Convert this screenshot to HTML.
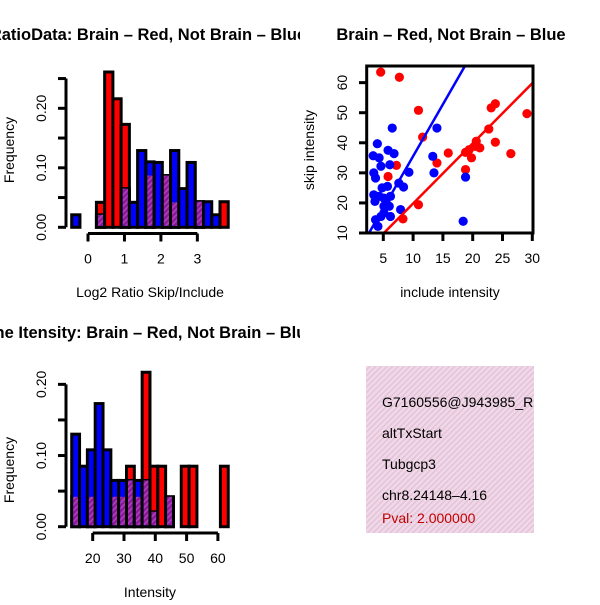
<!DOCTYPE html>
<html><head><meta charset="utf-8"><style>
body{margin:0;background:#fff}
svg text{font-family:"Liberation Sans",sans-serif}
</style></head><body>
<svg id="c" width="600" height="600" viewBox="0 0 600 600" xmlns="http://www.w3.org/2000/svg">
<defs>
<pattern id="hatch" width="4" height="4" patternUnits="userSpaceOnUse" patternTransform="rotate(45)">
<rect width="4" height="4" fill="#8b1a9b"/><rect width="1.5" height="4" fill="#b040b8"/></pattern>
<pattern id="pink" width="4" height="4" patternUnits="userSpaceOnUse" patternTransform="rotate(45)">
<rect width="4" height="4" fill="#f4d4ee"/><rect width="1.3" height="4" fill="#d9c8c8"/></pattern>
<clipPath id="sclip"><rect x="366.7" y="66" width="166.3" height="167"/></clipPath>
<clipPath id="bclip"><rect x="366" y="366" width="168" height="167"/></clipPath>
<clipPath id="leftclip"><rect x="0" y="0" width="300" height="600"/></clipPath>
</defs>
<g id="h1"></g>
<g id="h2"></g>
<g id="sc"></g>
<g clip-path="url(#bclip)">
<rect x="366" y="366" width="168" height="167" fill="url(#pink)"/>
<text x="382" y="407" font-size="14">G7160556@J943985_RC</text>
<text x="382" y="438" font-size="14">altTxStart</text>
<text x="382" y="469" font-size="14">Tubgcp3</text>
<text x="382" y="500" font-size="14">chr8.24148–4.16</text>
<text x="382" y="523" font-size="14" fill="#c00000">Pval: 2.000000</text>
</g>
</svg>
<script>
// Histogram 1: Log2 ratio
const h1Red=[0,0,0,0.042,0.261,0.216,0.173,0,0,0.087,0,0.087,0.042,0,0,0.043,0,0,0.043];
const h1Blue=[0.021,0,0,0.021,0,0,0.065,0.042,0.129,0.11,0.109,0.087,0.129,0.065,0.109,0.043,0.043,0.021,0];
const h1XTicks=[0,1,2,3];
const h1YTicks=[0,0.05,0.10,0.15,0.20,0.25];
const h1YLabels=["0.00","","0.10","","0.20",""];
// Histogram 2: intensity
const h2Red=[0.042,0,0.042,0,0,0.042,0.042,0.085,0.042,0.217,0.085,0.085,0.042,0,0.085,0.085,0,0,0,0.085];
const h2Blue=[0.130,0.085,0.108,0.173,0.108,0.065,0.065,0.065,0.065,0.065,0.021,0,0.042,0,0,0,0,0,0,0];
const h2XTicks=[20,30,40,50,60];
const h2YTicks=[0,0.05,0.10,0.15,0.20];
const h2YLabels=["0.00","","0.10","","0.20"];
// Scatter
const redX=[4.56,7.7,10.9,11.6,7.2,5.8,14,15.9,10.9,8.3,18.8,18.8,19.8,20.4,20.6,21.2,19.4,22.7,23.1,23.8,23.8,26.4,29.1];
const redY=[63.5,61.8,50.8,41.9,32.5,28.8,33.3,36.6,19.4,14.7,36.8,31.1,35,38.8,40.5,38.3,37.7,44.6,51.6,53,40.2,36.4,49.7];
const blueX=[6.5,14,4,5.8,6.8,3.3,4.3,13.3,4.6,6.1,3.4,3.7,9.3,13.5,7.6,8.4,4.8,5.7,3.4,4.3,5.1,6.2,3.6,5.5,6,7.9,5.1,6.2,3.7,4.1,18.4,18.8,5.1,4.6];
const blueY=[44.9,44.9,39.7,37.5,36.4,35.7,35,35.5,32.2,32.7,30,28.3,30.2,30,26.6,25.3,25,25.5,22.7,22.2,21.6,22.2,20.5,20,18.9,17.8,16.7,15.5,14.4,12.2,13.9,28.6,18.9,15.5];
const redFit=[-0.2,2.0];
const blueFit=[1.03,3.45];
const scXTicks=[5,10,15,20,25,30];
const scYTicks=[10,20,30,40,50,60];

const NS="http://www.w3.org/2000/svg";
function mk(parent,tag,attrs){const e=document.createElementNS(NS,tag);for(const k in attrs)e.setAttribute(k,attrs[k]);parent.appendChild(e);return e;}

function hist(g,red,blue,x0,bw,sx,sy){
  for(let i=0;i<red.length;i++){
    const xa=sx(x0+i*bw), xb=sx(x0+(i+1)*bw);
    const r=red[i], b=blue[i];
    if(r>0){const e=mk(g,'rect',{x:xa,y:sy(r),width:xb-xa,height:sy(0)-sy(r),fill:'#ff0000',stroke:'#000','stroke-width':3});
      }
    if(b>0){const e=mk(g,'rect',{x:xa,y:sy(b),width:xb-xa,height:sy(0)-sy(b),fill:'#0000ff',stroke:'#000','stroke-width':3});
      }
    const m=Math.min(r,b);
    if(m>0){const e=mk(g,'rect',{x:xa+1.5,y:sy(m),width:xb-xa-3,height:sy(0)-sy(m)-1.5,fill:'url(#hatch)'});
      }
  }
}
function yaxis(g,ticks,labels,sy,x){
  mk(g,'line',{x1:x,x2:x,y1:sy(ticks[0]),y2:sy(ticks[ticks.length-1]),stroke:'#000','stroke-width':3});
  ticks.forEach((t,i)=>{mk(g,'line',{x1:x-8,x2:x,y1:sy(t),y2:sy(t),stroke:'#000','stroke-width':3});
    if(labels[i]!==''){const tx=mk(g,'text',{x:0,y:0,'font-size':14,'text-anchor':'middle',transform:`translate(${x-20},${sy(t)}) rotate(-90)`});tx.textContent=labels[i];
      }});
}
function xaxis(g,ticks,sx,y){
  mk(g,'line',{x1:sx(ticks[0]),x2:sx(ticks[ticks.length-1]),y1:y,y2:y,stroke:'#000','stroke-width':3});
  ticks.forEach(t=>{mk(g,'line',{x1:sx(t),x2:sx(t),y1:y,y2:y+8,stroke:'#000','stroke-width':3});
    const tx=mk(g,'text',{x:sx(t),y:y+30,'font-size':14,'text-anchor':'middle'});tx.textContent=t;
    });
}
function txt(g,s,attrs,name){const t=mk(g,'text',attrs);t.textContent=s;}

// H1
(function(){
  const g=document.getElementById('h1');
  const sx=v=>88+v*36.45, sy=v=>227.3-v*595;
  hist(g,h1Red,h1Blue,-0.447,0.226,sx,sy);
  yaxis(g,h1YTicks,h1YLabels,sy,66);
  xaxis(g,h1XTicks,sx,233.5);
  txt(g,'RatioData: Brain – Red, Not Brain – Blue',{x:148,y:40,'font-size':16.5,'font-weight':'bold','text-anchor':'middle','clip-path':'url(#leftclip)'},'ratio-histogram-title');
  txt(g,'Frequency',{x:0,y:0,'font-size':14,'text-anchor':'middle',transform:'translate(14,150) rotate(-90)'},'y-axis-title');
  txt(g,'Log2 Ratio Skip/Include',{x:150,y:297,'font-size':14,'text-anchor':'middle'},'x-axis-title');
})();
// H2
(function(){
  const g=document.getElementById('h2');
  const sx=v=>92.7+(v-20)*3.13, sy=v=>526.7-v*711.7;
  hist(g,h2Red,h2Blue,13.3,2.5,sx,sy);
  yaxis(g,h2YTicks,h2YLabels,sy,66);
  xaxis(g,h2XTicks,sx,533);
  txt(g,'Gene Itensity: Brain – Red, Not Brain – Blue',{x:144,y:338,'font-size':16.5,'font-weight':'bold','text-anchor':'middle','clip-path':'url(#leftclip)'},'intensity-histogram-title');
  txt(g,'Frequency',{x:0,y:0,'font-size':14,'text-anchor':'middle',transform:'translate(14,470) rotate(-90)'},'y-axis-title');
  txt(g,'Intensity',{x:150,y:597,'font-size':14,'text-anchor':'middle'},'x-axis-title');
})();
// Scatter
(function(){
  const g=document.getElementById('sc');
  const sx=v=>383.3+(v-5)*5.96, sy=v=>233-(v-10)*3.007;
  const cg=mk(g,'g',{'clip-path':'url(#sclip)'});
  redX.forEach((x,i)=>{const c=mk(cg,'circle',{cx:sx(x),cy:sy(redY[i]),r:4.6,fill:'#ff0000'});});
  blueX.forEach((x,i)=>{const c=mk(cg,'circle',{cx:sx(x),cy:sy(blueY[i]),r:4.6,fill:'#0000ff'});});
  const l1=mk(cg,'line',{x1:sx(0),y1:sy(blueFit[0]),x2:sx(40),y2:sy(blueFit[0]+40*blueFit[1]),stroke:'#0000ff','stroke-width':2.5});
  
  const l2=mk(cg,'line',{x1:sx(0),y1:sy(redFit[0]),x2:sx(40),y2:sy(redFit[0]+40*redFit[1]),stroke:'#ff0000','stroke-width':2.5});
  
  mk(g,'rect',{x:366.7,y:66,width:166.3,height:167,fill:'none',stroke:'#000','stroke-width':3});
  scXTicks.forEach(t=>{mk(g,'line',{x1:sx(t),x2:sx(t),y1:233,y2:241,stroke:'#000','stroke-width':3});
    txt(g,String(t),{x:sx(t),y:263,'font-size':14,'text-anchor':'middle'},'x-tick-label');});
  scYTicks.forEach(t=>{mk(g,'line',{x1:359,x2:366.7,y1:sy(t),y2:sy(t),stroke:'#000','stroke-width':3});
    txt(g,String(t),{x:0,y:0,'font-size':14,'text-anchor':'middle',transform:`translate(347,${sy(t)}) rotate(-90)`},'y-tick-label');});
  txt(g,'Brain – Red, Not Brain – Blue',{x:451,y:40,'font-size':16.5,'font-weight':'bold','text-anchor':'middle'},'scatter-title');
  txt(g,'skip intensity',{x:0,y:0,'font-size':14,'text-anchor':'middle',transform:'translate(314,150) rotate(-90)'},'y-axis-title');
  txt(g,'include intensity',{x:450,y:297,'font-size':14,'text-anchor':'middle'},'x-axis-title');
})();
</script>
</body></html>
